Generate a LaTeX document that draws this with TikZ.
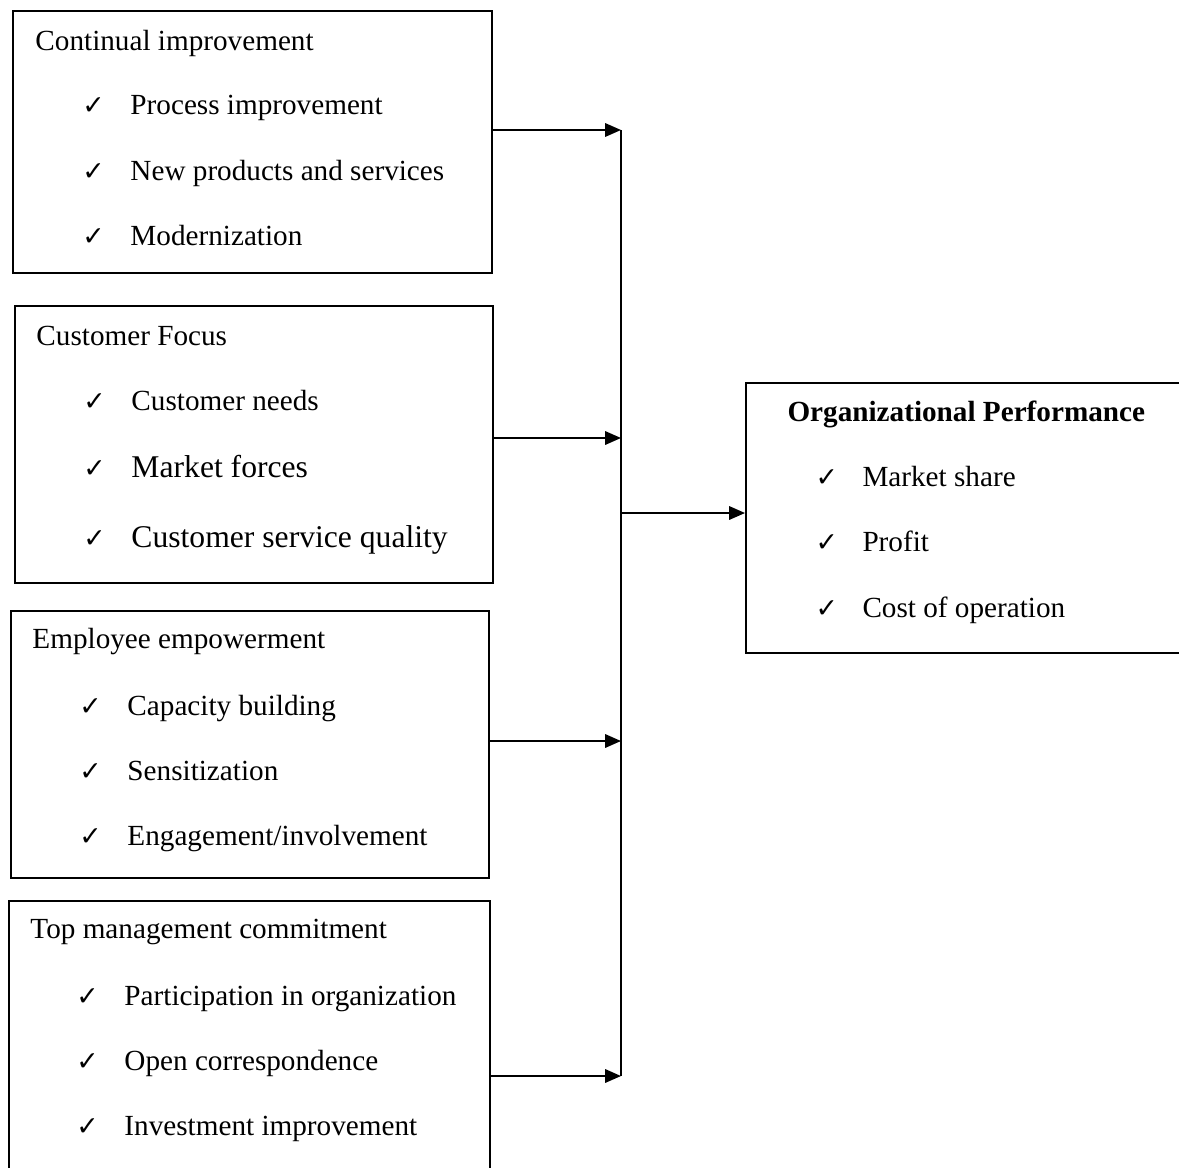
\documentclass[tikz,border=0pt]{standalone}
\usepackage{fontspec}
\setmainfont{Liberation Serif}
\newfontfamily\tickfont{DejaVu Sans}
\usetikzlibrary{arrows.meta,fit}
\newcommand{\tck}{✓}
\tikzset{box/.style={draw,line width=0.8pt,inner sep=0pt},
  head/.style={anchor=base west,inner sep=0pt},
  item/.style={anchor=base west,inner sep=0pt},
  big/.style={item,font=\fontsize{13}{15}\selectfont},
  tick/.style={anchor=base west,inner sep=0pt,font=\tickfont\fontsize{11}{13}\selectfont},
  arr/.style={-{Triangle[length=6.5pt,width=5.5pt]},line width=0.8pt}}

\begin{document}
\begin{tikzpicture}[x=0.411pt,y=-0.411pt,font=\fontsize{12}{14}\selectfont]
\useasboundingbox (0,0) rectangle (1179,1167);
% the four factor boxes
\node[box,fit={(13,11)(492,273)}] (b1) {};
\node[box,fit={(15,306)(493,583)}] (b2) {};
\node[box,fit={(11,611)(489,878)}] (b3) {};
\node[box,fit={(9,901)(490,1190)}] (b4) {};
\node[box,fit={(746,383)(1195,653)}] (perf) {};
% box texts
\node[head] (h1) at (35,50) {Continual improvement};
\foreach \y/\t [count=\k] in {114/Process improvement,180/New products and services,245/Modernization}{
  \node[tick] (c1\k) at (82,\y) {\tck};
  \node[item] (i1\k) at (130,\y) {\t};}
\node[head] (h2) at (36,345) {Customer Focus};
\node[tick] (c21) at (83,410) {\tck};
\node[item] (i21) at (131,410) {Customer needs};
\node[tick] (c22) at (83,477) {\tck};
\node[big] (i22) at (131,477) {Market forces};
\node[tick] (c23) at (83,547) {\tck};
\node[big] (i23) at (131,547) {Customer service quality};
\node[head] (h3) at (32,648) {Employee empowerment};
\foreach \y/\t [count=\k] in {715/Capacity building,780/Sensitization,845/{Engagement/involvement}}{
  \node[tick] (c3\k) at (79,\y) {\tck};
  \node[item] (i3\k) at (127,\y) {\t};}
\node[head] (h4) at (30,938) {Top management commitment};
\foreach \y/\t [count=\k] in {1005/Participation in organization,1070/Open correspondence,1135/Investment improvement}{
  \node[tick] (c4\k) at (76,\y) {\tck};
  \node[item] (i4\k) at (124,\y) {\t};}
\node[head,font=\fontsize{12}{14}\selectfont\bfseries] (hp) at (787,421) {Organizational Performance};
\foreach \y/\t [count=\k] in {486/Market share,551/Profit,617/Cost of operation}{
  \node[tick] (cp\k) at (815,\y) {\tck};
  \node[item] (ip\k) at (862,\y) {\t};}
% collecting line and arrows
\coordinate (j1) at (621,130);
\coordinate (j2) at (621,438);
\coordinate (j3) at (621,741);
\coordinate (j4) at (621,1076);
\coordinate (jo) at (621,513);
\draw[line width=0.8pt] (j1)--(j4);
\foreach \b/\j in {b1/j1,b2/j2,b3/j3,b4/j4}{\draw[arr] (\b.east |- \j)--(\j);}
\draw[arr] (jo)--(perf.west |- jo);
\end{tikzpicture}
\end{document}
